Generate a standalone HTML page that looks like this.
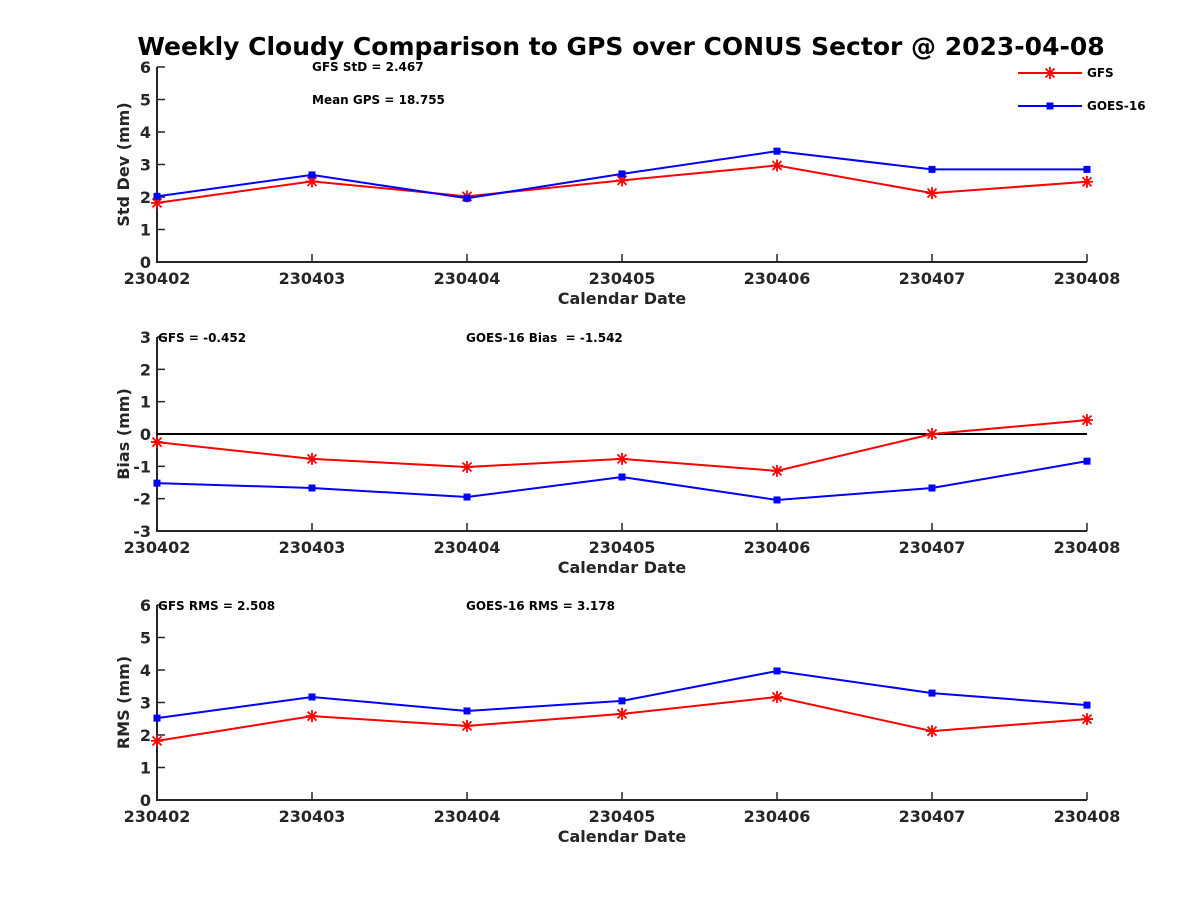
<!DOCTYPE html>
<html><head><meta charset="utf-8"><style>
body{margin:0;background:#fff}
svg{display:block;font-family:"DejaVu Sans","Liberation Sans",sans-serif;font-weight:bold}
</style></head><body>
<svg id="chart" width="1200" height="900" viewBox="0 0 1200 900" xmlns="http://www.w3.org/2000/svg">
<text x="621" y="55" text-anchor="middle" font-size="25" fill="#000">Weekly Cloudy Comparison to GPS over CONUS Sector @ 2023-04-08</text>
<g id="panels"></g>
</svg>
<script>
const dates = ["230402","230403","230404","230405","230406","230407","230408"];
const stdGFS = [1.82,2.48,2.02,2.51,2.97,2.12,2.47];
const stdGOES = [2.02,2.68,1.96,2.71,3.41,2.85,2.85];
const biasGFS = [-0.25,-0.77,-1.02,-0.77,-1.14,0.0,0.43];
const biasGOES = [-1.52,-1.67,-1.95,-1.33,-2.04,-1.67,-0.84];
const rmsGFS = [1.82,2.58,2.28,2.65,3.17,2.12,2.49];
const rmsGOES = [2.52,3.17,2.74,3.05,3.97,3.29,2.92];
const stdTicks = [0,1,2,3,4,5,6];
const biasTicks = [-3,-2,-1,0,1,2,3];
const rmsTicks = [0,1,2,3,4,5,6];

const NS="http://www.w3.org/2000/svg";
const root=document.getElementById('panels');
function mk(tag,attrs,parent){const e=document.createElementNS(NS,tag);for(const k in attrs)e.setAttribute(k,attrs[k]);(parent||root).appendChild(e);return e;}
const X0=157,X1=1087;
function xs(i){return X0+(X1-X0)*i/(dates.length-1);}

const panels=[
 {name:'std',top:67,bot:262,ymin:0,ymax:6,ticks:stdTicks,ylabel:'Std Dev (mm)',gfs:stdGFS,goes:stdGOES,
  notes:[["GFS StD = 2.467",312,71],["Mean GPS = 18.755",312,104]],zero:false},
 {name:'bias',top:337,bot:531,ymin:-3,ymax:3,ticks:biasTicks,ylabel:'Bias (mm)',gfs:biasGFS,goes:biasGOES,
  notes:[["GFS = -0.452",158,342],["GOES-16 Bias \u00a0= -1.542",466,342]],zero:true},
 {name:'rms',top:605,bot:800,ymin:0,ymax:6,ticks:rmsTicks,ylabel:'RMS (mm)',gfs:rmsGFS,goes:rmsGOES,
  notes:[["GFS RMS = 2.508",158,610],["GOES-16 RMS = 3.178",466,610]],zero:false}
];

panels.forEach(p=>{
  const g=mk('g',{});
  
  
  const ys=v=>p.bot-(v-p.ymin)/(p.ymax-p.ymin)*(p.bot-p.top);
  const ax=mk('path',{d:`M${X0},${p.top}V${p.bot}H${X1}`,stroke:'#262626','stroke-width':2,fill:'none'},g);
  
  
  p.ticks.forEach(t=>{
    const y=ys(t);
    mk('line',{x1:X0,x2:X0+8,y1:y,y2:y,stroke:'#262626','stroke-width':1.5},g);
    const tl=mk('text',{x:X0-6,y:y+6,'text-anchor':'end','font-size':16,fill:'#262626'},g);
    tl.textContent=t;
    
    
  });
  dates.forEach((d,i)=>{
    const x=xs(i);
    mk('line',{x1:x,x2:x,y1:p.bot,y2:p.bot-8,stroke:'#262626','stroke-width':1.5},g);
    const tl=mk('text',{x:x,y:p.bot+22,'text-anchor':'middle','font-size':16,fill:'#262626'},g);
    tl.textContent=d;
    
    
  });
  const xl=mk('text',{x:622,y:p.bot+42,'text-anchor':'middle','font-size':16,fill:'#262626'},g);
  xl.textContent='Calendar Date';
  
  
  const cy=(p.top+p.bot)/2;
  const yl=mk('text',{x:129,y:cy,'text-anchor':'middle','font-size':16,fill:'#262626',transform:`rotate(-90 129 ${cy})`},g);
  yl.textContent=p.ylabel;
  
  
  if(p.zero){
    const z=mk('line',{x1:X0,x2:X1,y1:ys(0),y2:ys(0),stroke:'#000','stroke-width':2},g);
    
    
  }
  p.notes.forEach(n=>{
    const t=mk('text',{x:n[1],y:n[2],'font-size':12,fill:'#000'},g);
    t.textContent=n[0];
    
    
  });
  [[p.gfs,'#ff0000','gfs'],[p.goes,'#0000ff','goes']].forEach(([vals,col,nm])=>{
    const pts=vals.map((v,i)=>xs(i)+','+ys(v)).join(' ');
    const l=mk('polyline',{points:pts,fill:'none',stroke:col,'stroke-width':2},g);
    
    
    vals.forEach((v,i)=>{
      const x=xs(i),y=ys(v);
      if(nm==='goes'){
        const m=mk('rect',{x:x-3.5,y:y-3.5,width:7,height:7,fill:col},g);
        
        
      } else {
        const m=mk('path',{d:`M${x-6},${y}H${x+6}M${x},${y-6}V${y+6}M${x-4.5},${y-4.5}L${x+4.5},${y+4.5}M${x-4.5},${y+4.5}L${x+4.5},${y-4.5}`,stroke:col,'stroke-width':1.8},g);
        
        
      }
    });
  });
});
const lg=mk('g',{});


mk('line',{x1:1018,x2:1082,y1:73,y2:73,stroke:'#ff0000','stroke-width':2},lg);
mk('path',{d:'M1044,73H1056M1050,67V79M1045.5,68.5L1054.5,77.5M1045.5,77.5L1054.5,68.5',stroke:'#ff0000','stroke-width':1.8},lg);
const t1=mk('text',{x:1087,y:77,'font-size':12,fill:'#000'},lg);t1.textContent='GFS';


mk('line',{x1:1018,x2:1082,y1:106,y2:106,stroke:'#0000ff','stroke-width':2},lg);
mk('rect',{x:1046.5,y:102.5,width:7,height:7,fill:'#0000ff'},lg);
const t2=mk('text',{x:1087,y:110,'font-size':12,fill:'#000'},lg);t2.textContent='GOES-16';


</script>
</body></html>
